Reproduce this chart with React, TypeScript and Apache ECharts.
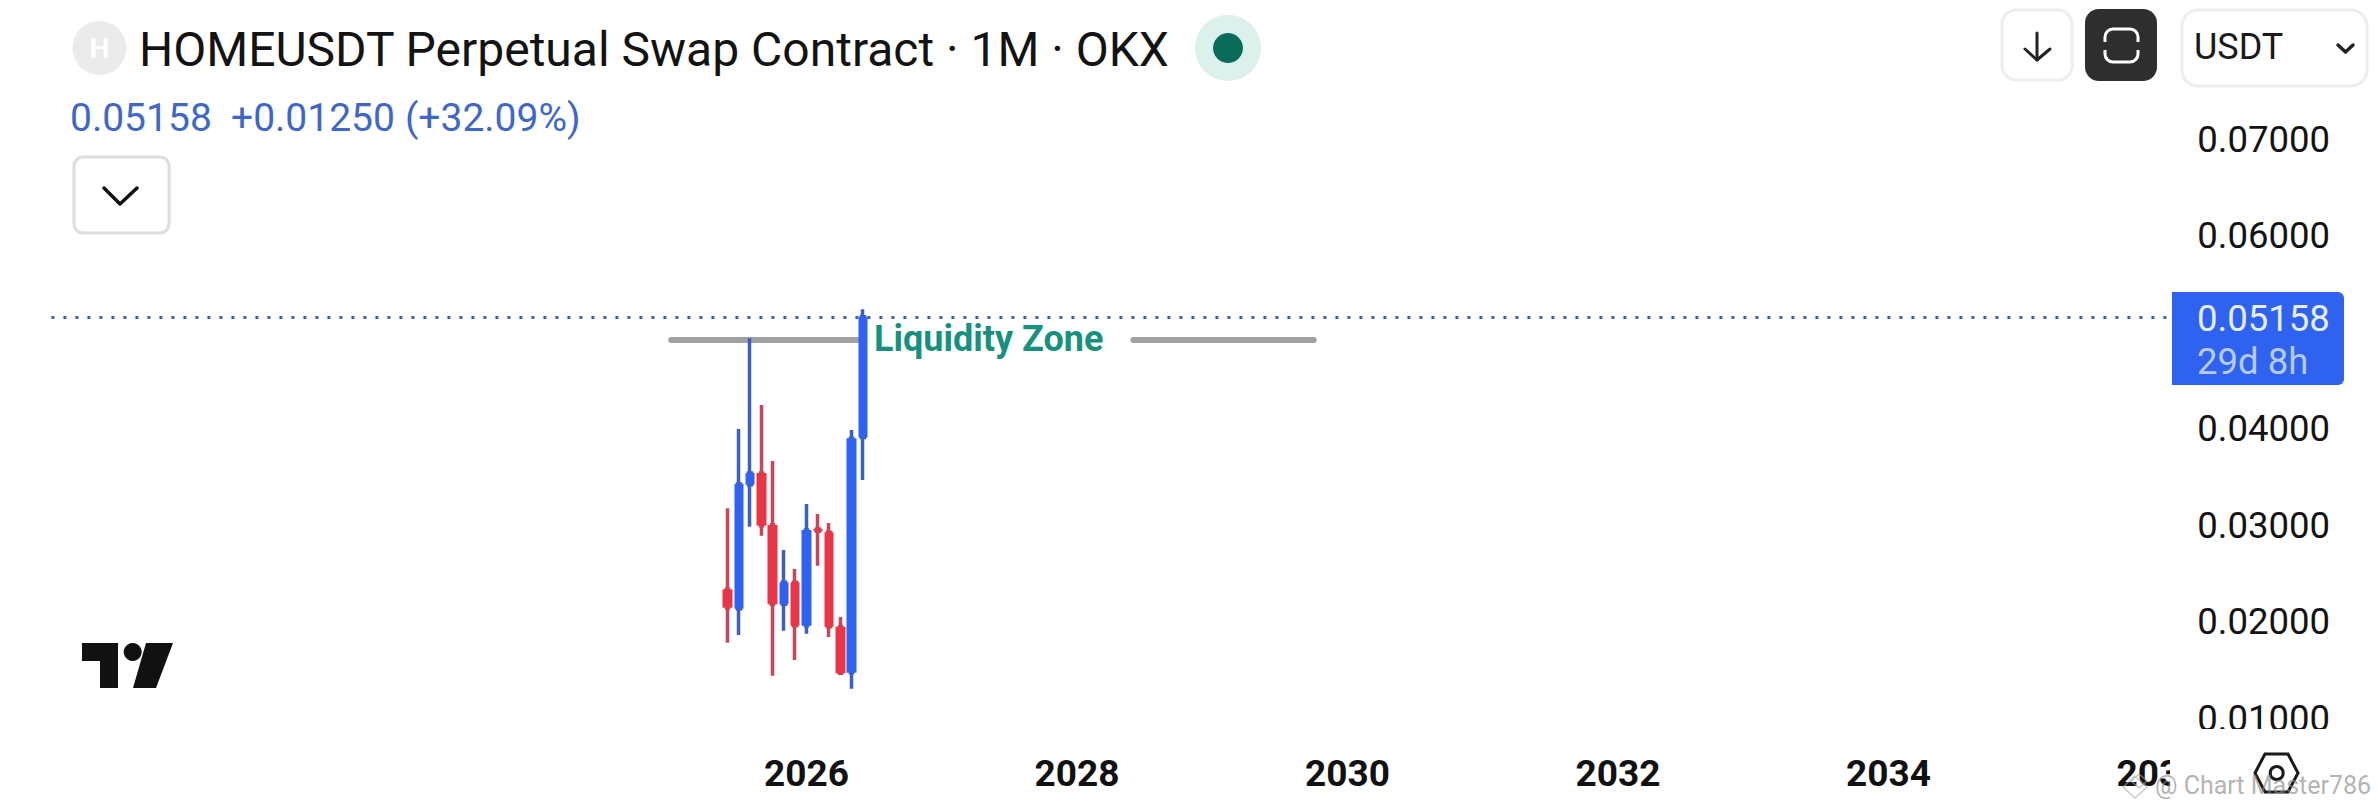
import React, { useEffect, useRef } from "react";
import * as echarts from "echarts";

const FONT = "Roboto";
const firstYear = 2020;
const firstMonth = 1; // zero-based: February
const monthCount = 193;
const categories: string[] = [];
for (let i = 0; i < monthCount; i++) {
  const total = firstYear * 12 + firstMonth + i;
  categories.push(`${Math.floor(total / 12)}-${String((total % 12) + 1).padStart(2, "0")}`);
}
const yearLabels: Record<string, string> = {
  "2026-01": "2026", "2028-01": "2028", "2030-01": "2030",
  "2032-01": "2032", "2034-01": "2034", "2036-01": "2036",
};
const priceTicks = [0.01, 0.02, 0.03, 0.04, 0.06, 0.07];

const candleMonths = ["2025-06","2025-07","2025-08","2025-09","2025-10","2025-11","2025-12","2026-01","2026-02","2026-03","2026-04","2026-05","2026-06"];
const opens  = [0.02333,0.02133,0.03418,0.03539,0.03000,0.02178,0.02406,0.01957,0.02959,0.02924,0.01946,0.01470,0.03908];
const closes = [0.02143,0.03425,0.03539,0.02993,0.02178,0.02406,0.01957,0.02948,0.02934,0.01946,0.01463,0.03898,0.05158];
const lows   = [0.01781,0.01860,0.02983,0.02889,0.01439,0.01905,0.01601,0.01874,0.02579,0.01839,0.01463,0.01304,0.03466];
const highs  = [0.03173,0.03995,0.04934,0.04244,0.03663,0.02741,0.02544,0.03218,0.03114,0.03021,0.02047,0.03984,0.05235];

const lastPrice = 0.05158;
const liquidityLevel = 0.04917;
const liquiditySegments = [["2025-01", "2026-06"], ["2028-06", "2029-10"]];
const priceLineRange = ["2020-06", "2036-02"];

const wickData = categories.map((c) => {
  const i = candleMonths.indexOf(c);
  return i < 0 ? ["-", "-", "-", "-"] : [opens[i], closes[i], lows[i], highs[i]];
});
const bodyData = categories.map((c) => {
  const i = candleMonths.indexOf(c);
  return i < 0
    ? ["-", "-", "-", "-"]
    : [opens[i], closes[i], Math.min(opens[i], closes[i]), Math.max(opens[i], closes[i])];
});

const Z = 100;
const txt = (text: string, x: number, y: number, fontSize: number, fill: string, extra: any = {}) => ({
  type: "text", z: Z + 2,
  style: {
    x, y, text, fill, fontSize, fontFamily: FONT, fontWeight: extra.weight ?? 400,
    align: extra.align ?? "left", textAlign: extra.align ?? "left",
    verticalAlign: "middle", textVerticalAlign: "middle",
  },
});
const box = (x: number, y: number, w: number, h: number, r: any, fill: string, stroke?: string, lineWidth = 3) => ({
  type: "rect", z: Z, shape: { x, y, width: w, height: h, r },
  style: { fill, stroke: stroke ?? "none", lineWidth },
});
const pline = (points: number[][], stroke: string, lineWidth: number, extra: any = {}) => ({
  type: "polyline", z: Z + 1, shape: { points },
  style: { stroke, lineWidth, fill: "none", lineCap: "round", lineJoin: "round", ...extra },
});

const graphics: any[] = [
  // clip of the price and time scales
  { type: "rect", z: Z - 10, shape: { x: 2170, y: 729, width: 207, height: 81 }, style: { fill: "#ffffff" } },
  // header
  { type: "circle", z: Z, shape: { cx: 99.5, cy: 48, r: 27 }, style: { fill: "#ebebeb" } },
  txt("H", 99.5, 48, 28, "#ffffff", { align: "center", weight: 700 }),
  txt("HOMEUSDT Perpetual Swap Contract · 1M · OKX", 139, 49, 48, "#131313"),
  { type: "circle", z: Z, shape: { cx: 1228, cy: 48, r: 33 }, style: { fill: "#dcf0ec" } },
  { type: "circle", z: Z + 1, shape: { cx: 1228, cy: 48, r: 15 }, style: { fill: "#0b6b59" } },
  txt("0.05158", 70, 118, 39, "#3f68c6"),
  txt("+0.01250", 231, 118, 39, "#3f68c6"),
  txt("(+32.09%)", 405, 118, 39, "#3f68c6"),
  box(74, 157, 95, 76, 9, "#ffffff", "#dddddd"),
  pline([[104, 188], [120, 204], [137, 188]], "#111111", 3.5),
  // top-right buttons
  box(2002, 10, 70, 70, 14, "#ffffff", "#eeeeee"),
  pline([[2037, 33], [2037, 60]], "#222222", 3),
  pline([[2025, 49], [2037, 60], [2050, 49]], "#222222", 3),
  box(2085, 9, 72, 72, 14, "#2e2e2e"),
  { type: "rect", z: Z + 1, shape: { x: 2105, y: 29, width: 33, height: 33, r: 8 }, style: { fill: "none", stroke: "#ffffff", lineWidth: 3 } },
  { type: "rect", z: Z + 2, shape: { x: 2102, y: 42, width: 39, height: 8 }, style: { fill: "#2e2e2e" } },
  box(2182, 10, 185, 76, 16, "#ffffff", "#eeeeee"),
  txt("USDT", 2194, 47, 36, "#1a1a1a"),
  pline([[2338, 45], [2345.5, 52], [2353, 45]], "#222222", 3.5),
  // last price tag
  box(2172, 292, 172, 93, [0, 6, 6, 0], "#2f62ee"),
  txt("0.05158", 2197, 318, 36.5, "#e6eeff"),
  txt("29d 8h", 2197, 361, 36.5, "#b5cbfb"),
  // annotation
  txt("Liquidity Zone", 874, 339, 36, "#17917d", { weight: 700 }),
  // TradingView mark
  { type: "polygon", z: Z, shape: { points: [[82, 643], [118, 643], [118, 688], [100, 688], [100, 661], [82, 661]] }, style: { fill: "#111111" } },
  { type: "circle", z: Z, shape: { cx: 132.7, cy: 652, r: 9 }, style: { fill: "#111111" } },
  { type: "polygon", z: Z, shape: { points: [[146, 643], [173, 643], [156, 688], [133, 688]] }, style: { fill: "#111111" } },
  // settings hexagon
  { type: "polygon", z: Z, shape: { points: [[2265, 754], [2288, 754], [2298, 773], [2288, 792], [2265, 792], [2255, 773]] }, style: { fill: "none", stroke: "#1a1a1a", lineWidth: 3 } },
  { type: "circle", z: Z, shape: { cx: 2276.7, cy: 773, r: 6.5 }, style: { fill: "none", stroke: "#1a1a1a", lineWidth: 3 } },
  // watermark
  { type: "polygon", z: Z + 3, shape: { points: [[2123, 787], [2135, 776], [2147, 787], [2135, 798]] }, style: { fill: "none", stroke: "rgba(170,170,170,0.6)", lineWidth: 1.5 } },
  { type: "polygon", z: Z + 3, shape: { points: [[2131, 781], [2139, 774], [2147, 781], [2139, 788]] }, style: { fill: "none", stroke: "rgba(170,170,170,0.6)", lineWidth: 1.5 } },
  { ...txt("@ Chart Master786", 2155, 785, 25, "rgba(135,135,135,0.65)"), z: Z + 3 },
];

const option: any = {
  animation: false,
  backgroundColor: "#ffffff",
  grid: { left: 0.7, width: 2175.11, top: 139, height: 579 },
  xAxis: {
    type: "category", data: categories, boundaryGap: true,
    axisLine: { show: false }, axisTick: { show: false }, splitLine: { show: false },
    axisLabel: {
      interval: (_: number, v: string) => v in yearLabels,
      formatter: (v: string) => yearLabels[v] ?? "",
      color: "#111111", fontFamily: FONT, fontWeight: 700, fontSize: 37, margin: 37,
      hideOverlap: false,
    },
  },
  yAxis: {
    type: "value", position: "right", min: 0.01, max: 0.07, interval: 0.01,
    axisLine: { show: false }, axisTick: { show: false }, splitLine: { show: false },
    axisLabel: {
      customValues: priceTicks,
      formatter: (v: number) => v.toFixed(5),
      color: "#131313", fontFamily: FONT, fontSize: 36.5, margin: 21.5,
      padding: [3, 0, 0, 0],
    },
  },
  series: [
    {
      type: "candlestick", name: "wicks", data: wickData, barWidth: 3, z: 3,
      itemStyle: { color: "#3a60c2", color0: "#c8465a", borderColor: "#3a60c2", borderColor0: "#c8465a", borderWidth: 3.5 },
      markLine: {
        silent: true, symbol: "none", z: 1, label: { show: false }, animation: false,
        data: [
          ...liquiditySegments.map(([a, b]) => [
            { coord: [a, liquidityLevel], lineStyle: { color: "#a0a0a0", width: 6, type: "solid", cap: "round" } },
            { coord: [b, liquidityLevel] },
          ]),
          [
            { coord: [priceLineRange[0], lastPrice], lineStyle: { color: "#3a62b0", width: 3, type: [3, 9] } },
            { coord: [priceLineRange[1], lastPrice] },
          ],
        ],
      },
    },
    {
      type: "candlestick", name: "bodies", data: bodyData, barWidth: 10, z: 4,
      itemStyle: { color: "#2f62ee", color0: "#e93545", borderColor: "#2f62ee", borderColor0: "#e93545", borderWidth: 0 },
    },
  ],
  graphic: { elements: graphics },
};

export default function App() {
  const ref = useRef<HTMLDivElement>(null);
  useEffect(() => {
    document.body.style.margin = "0";
    const chart = echarts.init(ref.current!, null, { renderer: "svg" });
    chart.setOption(option);
    return () => chart.dispose();
  }, []);
  return <div ref={ref} style={{ width: 2377, height: 810, background: "#fff" }} />;
}
